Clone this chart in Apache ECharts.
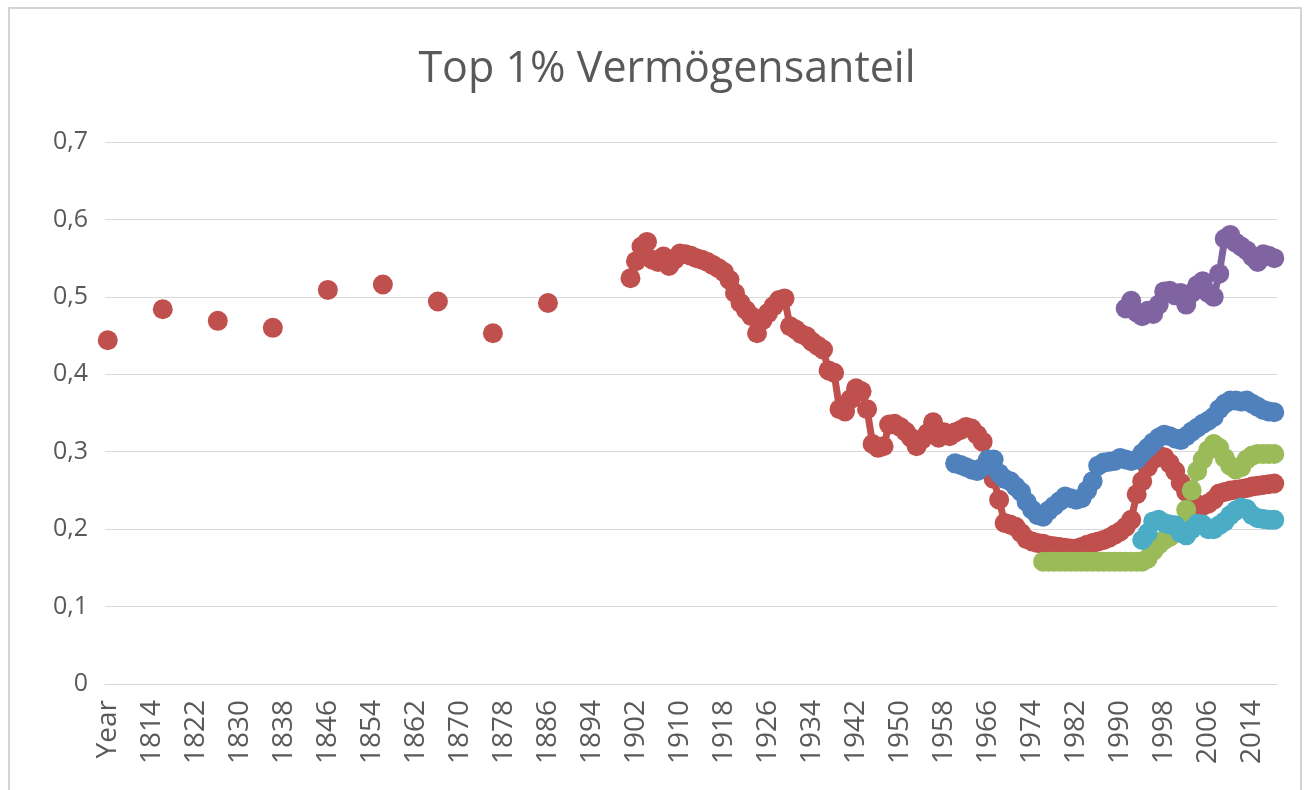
<!DOCTYPE html>
<html>
<head>
<meta charset="utf-8">
<script src="https://cdn.jsdelivr.net/npm/echarts@6/dist/echarts.min.js"></script>
<style>
  html, body { margin: 0; padding: 0; background: #fff; }
  #chart { width: 1304px; height: 790px; }
</style>
</head>
<body>
<div id="chart"></div>
<script>
// Kategorien: erste Zeile "Year", danach 1807..2018
const firstYear = 1807;
const lastYear = 2018;
const categories = ['Year'];
for (let y = firstYear; y <= lastYear; y++) categories.push(String(y));

// einzelne Punkte im 19. Jh. (rot)
const redEarlyYears = ['Year', '1816', '1826', '1836', '1846', '1856', '1866', '1876', '1886'];
const redEarlyValues = [0.444, 0.484, 0.469, 0.460, 0.509, 0.516, 0.494, 0.453, 0.492];

// rot ab 1901
const redStart = 1901;
const redValues = [
  0.524, 0.546, 0.565, 0.571, 0.548, 0.545, 0.552, 0.540, 0.548, 0.556,
  0.555, 0.553, 0.550, 0.548, 0.545, 0.541, 0.537, 0.532, 0.522, 0.505,
  0.492, 0.483, 0.475, 0.453, 0.470, 0.479, 0.488, 0.496, 0.498, 0.462,
  0.458, 0.452, 0.449, 0.442, 0.437, 0.432, 0.405, 0.402, 0.355, 0.352,
  0.368, 0.382, 0.378, 0.355, 0.310, 0.305, 0.307, 0.335, 0.336, 0.332,
  0.326, 0.318, 0.307, 0.316, 0.324, 0.338, 0.318, 0.325, 0.320, 0.325,
  0.328, 0.332, 0.330, 0.322, 0.313, 0.290, 0.265, 0.238, 0.208, 0.206,
  0.203, 0.195, 0.187, 0.184, 0.182, 0.181, 0.179, 0.178, 0.177, 0.176,
  0.175, 0.175, 0.177, 0.180, 0.182, 0.184, 0.186, 0.189, 0.193, 0.197,
  0.203, 0.212, 0.245, 0.262, 0.280, 0.290, 0.295, 0.293, 0.285, 0.275,
  0.260, 0.248, 0.238, 0.232, 0.230, 0.233, 0.238, 0.246, 0.248, 0.250,
  0.251, 0.252, 0.253, 0.255, 0.256, 0.257, 0.258, 0.259
];

// blau ab 1960
const blueStart = 1960;
const blueValues = [
  0.285, 0.283, 0.280, 0.277, 0.275, 0.280, 0.290, 0.290, 0.272, 0.265,
  0.262, 0.255, 0.248, 0.235, 0.225, 0.218, 0.216, 0.224, 0.230, 0.236,
  0.242, 0.240, 0.238, 0.240, 0.250, 0.262, 0.282, 0.286, 0.287, 0.288,
  0.292, 0.290, 0.288, 0.290, 0.298, 0.305, 0.312, 0.318, 0.322, 0.320,
  0.317, 0.315, 0.320, 0.326, 0.331, 0.336, 0.340, 0.345, 0.355, 0.362,
  0.366, 0.366, 0.365, 0.366, 0.362, 0.358, 0.354, 0.352, 0.351
];

// grün ab 1976
const greenStart = 1976;
const greenValues = [
  0.158, 0.158, 0.158, 0.158, 0.158, 0.158, 0.158, 0.158, 0.158, 0.158,
  0.158, 0.158, 0.158, 0.158, 0.158, 0.158, 0.158, 0.158, 0.158, 0.162,
  0.172, 0.180, 0.186, 0.190, 0.195, 0.205, 0.225, 0.250, 0.275, 0.290,
  0.302, 0.310, 0.305, 0.292, 0.282, 0.277, 0.280, 0.290, 0.295, 0.297,
  0.297, 0.297, 0.297
];

// türkis ab 1994
const aquaStart = 1994;
const aquaValues = [
  0.186, 0.195, 0.210, 0.212, 0.208, 0.206, 0.205, 0.195, 0.192, 0.200,
  0.207, 0.206, 0.200, 0.200, 0.205, 0.210, 0.218, 0.224, 0.228, 0.226,
  0.218, 0.214, 0.213, 0.212, 0.212
];

// lila ab 1991
const purpleStart = 1991;
const purpleValues = [
  0.485, 0.495, 0.480, 0.475, 0.482, 0.478, 0.490, 0.507, 0.508, 0.502,
  0.505, 0.490, 0.505, 0.515, 0.520, 0.505, 0.500, 0.530, 0.575, 0.580,
  0.570, 0.565, 0.560, 0.552, 0.545, 0.555, 0.553, 0.550
];

const yTicks = ['0', '0,1', '0,2', '0,3', '0,4', '0,5', '0,6', '0,7'];

function fill(start, values) {
  const out = categories.map(() => null);
  values.forEach((v, i) => {
    const idx = categories.indexOf(String(start + i));
    if (idx >= 0) out[idx] = v;
  });
  return out;
}

const redData = fill(redStart, redValues);
redEarlyYears.forEach((y, i) => {
  redData[categories.indexOf(y)] = redEarlyValues[i];
});

function lineSeries(name, color, data) {
  return {
    name: name,
    type: 'line',
    data: data,
    symbol: 'circle',
    symbolSize: 20,
    showAllSymbol: true,
    connectNulls: false,
    lineStyle: { color: color, width: 7 },
    itemStyle: { color: color },
    emphasis: { disabled: true }
  };
}

const chart = echarts.init(document.getElementById('chart'));
chart.setOption({
  animation: false,
  backgroundColor: '#fff',
  textStyle: { fontFamily: 'Open Sans' },
  title: {
    text: 'Top 1% Vermögensanteil',
    left: 662,
    textAlign: 'center',
    top: 43,
    textStyle: { fontSize: 43, fontWeight: 'normal', color: '#595959', fontFamily: 'Open Sans' }
  },
  graphic: [{
    type: 'rect',
    shape: { x: 9, y: 8, width: 1292, height: 820 },
    style: { fill: 'none', stroke: '#d4d4d4', lineWidth: 2 },
    silent: true
  }],
  grid: { left: 105, right: 27, top: 142, bottom: 106 },
  xAxis: {
    type: 'category',
    boundaryGap: true,
    data: categories,
    axisTick: { show: false },
    axisLine: { lineStyle: { color: '#d9d9d9', width: 1 } },
    axisLabel: {
      interval: 7,
      rotate: 90,
      margin: 16,
      fontSize: 28,
      color: '#595959'
    }
  },
  yAxis: {
    type: 'value',
    min: 0,
    max: 0.7,
    interval: 0.1,
    axisLine: { show: false },
    axisTick: { show: false },
    splitLine: { lineStyle: { color: '#d9d9d9', width: 1 } },
    axisLabel: {
      margin: 17,
      fontSize: 25,
      color: '#595959',
      formatter: (v) => yTicks[Math.round(v * 10)]
    }
  },
  series: [
    lineSeries('Rot', '#C0504D', redData),
    lineSeries('Blau', '#4F81BD', fill(blueStart, blueValues)),
    lineSeries('Grün', '#9BBB59', fill(greenStart, greenValues)),
    lineSeries('Türkis', '#4BACC6', fill(aquaStart, aquaValues)),
    lineSeries('Lila', '#8064A2', fill(purpleStart, purpleValues))
  ]
});
</script>
</body>
</html>
